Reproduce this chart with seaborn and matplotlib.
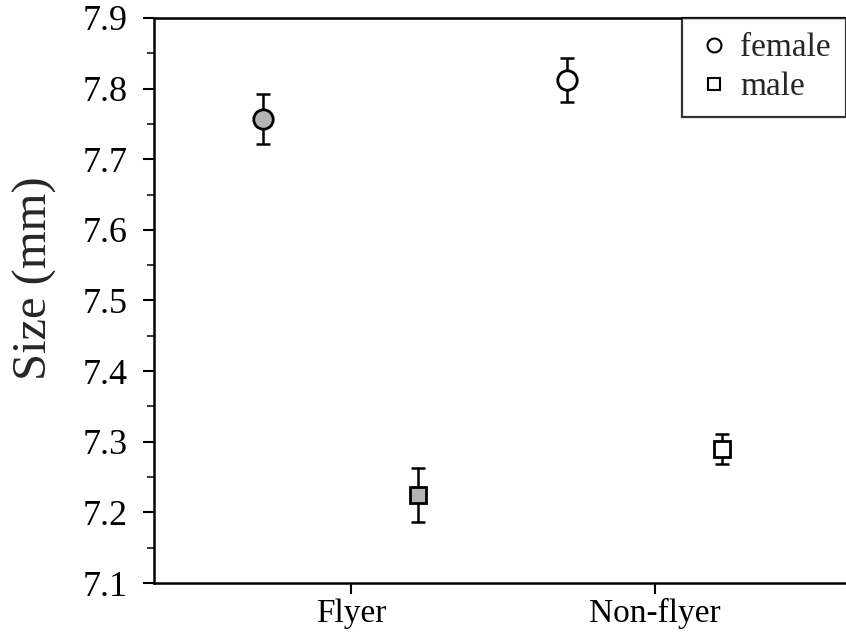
import numpy as np
import pandas as pd
import matplotlib
matplotlib.use("Agg")
import matplotlib.pyplot as plt
import seaborn as sns
from matplotlib.lines import Line2D
from matplotlib.ticker import MultipleLocator

# data
groups = ["Flyer", "Non-flyer"]
female_mean = [7.757, 7.812]
female_se = [0.035, 0.031]
male_mean = [7.225, 7.290]
male_se = [0.038, 0.021]

df = pd.DataFrame({
    "group": groups * 2,
    "sex": ["female"] * 2 + ["male"] * 2,
    "size": female_mean + male_mean,
    "se": female_se + male_se,
})

sns.set_style("ticks")
plt.rcParams["font.family"] = ["Liberation Serif", "DejaVu Serif"]

fig = plt.figure(figsize=(8.46, 6.38), dpi=100)
ax = fig.add_axes([0.182, 0.0862, 0.818, 0.8856])

offset = {"female": -0.29, "male": 0.22}
marker = {"female": "o", "male": "s"}
msize = {"female": 14, "male": 12}
df["x"] = df["group"].map({g: i for i, g in enumerate(groups)}) + df["sex"].map(offset)

for _, r in df.iterrows():
    face = "#b5b5b5" if r["group"] == "Flyer" else "white"
    ax.errorbar(r["x"], r["size"], yerr=r["se"], fmt="none", ecolor="black",
                elinewidth=1.8, capsize=5, capthick=1.8, zorder=2)
    ax.plot(r["x"], r["size"], marker=marker[r["sex"]], ms=msize[r["sex"]],
            mfc=face, mec="black", mew=2, ls="none", zorder=3)

ax.set_xlim(-0.65, 1.63)
ax.set_ylim(7.1, 7.9)
ax.set_xticks(range(len(groups)))
ax.set_xticklabels(groups)
ax.yaxis.set_major_locator(MultipleLocator(0.1))
ax.yaxis.set_minor_locator(MultipleLocator(0.05))
ax.yaxis.set_major_formatter(matplotlib.ticker.FormatStrFormatter("%.1f"))
ax.tick_params(axis="both", which="major", width=1.5, length=8, color="black", labelcolor="black")
ax.tick_params(axis="y", which="major", labelsize=26, pad=11)
ax.tick_params(axis="x", which="major", labelsize=24, pad=3)
ax.tick_params(axis="y", which="minor", width=1.3, length=5)
ax.set_ylabel("Size (mm)", fontsize=35)
ax.yaxis.set_label_coords(-0.14, 0.54)
ax.set_xlabel("")

for s in ["left", "bottom", "top"]:
    ax.spines[s].set_linewidth(1.8)
    ax.spines[s].set_color("black")
ax.spines["right"].set_visible(False)

handles = [
    Line2D([], [], marker="o", ls="none", ms=10, mfc="white", mec="black", mew=1.5, label="female"),
    Line2D([], [], marker="s", ls="none", ms=9, mfc="white", mec="black", mew=1.5, label="male"),
]
leg = ax.legend(handles=handles, loc="upper right", bbox_to_anchor=(1.0, 1.0),
                borderaxespad=0, fontsize=24, frameon=True, fancybox=False,
                handletextpad=0.3, handlelength=1.0, borderpad=0.45, labelspacing=0.25)
leg.get_frame().set_edgecolor("black")
leg.get_frame().set_linewidth(1.6)

fig.savefig("out.png", dpi=100)
